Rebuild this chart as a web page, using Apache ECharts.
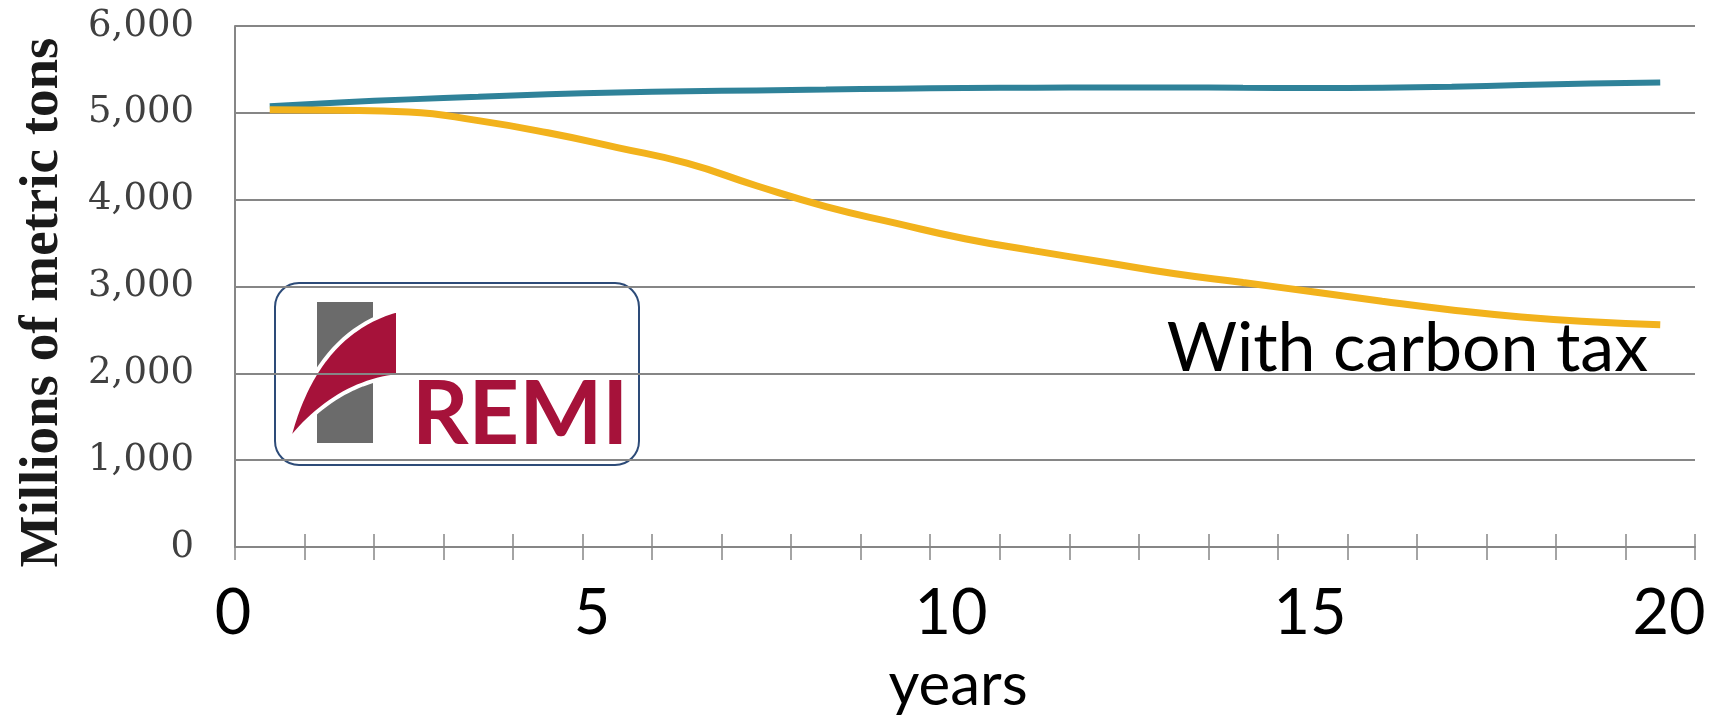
<!DOCTYPE html>
<html>
<head>
<meta charset="utf-8">
<title>Emissions with carbon tax</title>
<script src="https://cdn.jsdelivr.net/npm/echarts@6.0.0/dist/echarts.min.js"></script>
<style>
  html, body { margin: 0; padding: 0; background: #fff; }
  #chart { width: 1709px; height: 721px; }
</style>
</head>
<body>
<div id="chart"></div>
<script>
  // years 0..20
  let years = ['0', '1', '2', '3', '4', '5', '6', '7', '8', '9', '10',
               '11', '12', '13', '14', '15', '16', '17', '18', '19', '20'];
  // millions of metric tons
  let baseline = [5075, 5120, 5155, 5185, 5215, 5235, 5248, 5258, 5268, 5278, 5285,
                  5290, 5292, 5292, 5288, 5285, 5290, 5300, 5320, 5338, 5350];
  let withTax = [5035, 5030, 5010, 4910, 4770, 4600, 4420, 4160, 3920, 3730, 3550,
                 3410, 3280, 3150, 3045, 2940, 2830, 2730, 2650, 2595, 2560];
  let yTicks = [0, 1000, 2000, 3000, 4000, 5000, 6000];
  let yearTicks = [0, 5, 10, 15, 20];

  // points along a quadratic curve, for the logo sail
  function quad(p0, c, p1, n) {
    let pts = [];
    for (let i = 0; i <= n; i++) {
      let t = i / n, u = 1 - t;
      pts.push([u * u * p0[0] + 2 * u * t * c[0] + t * t * p1[0],
                u * u * p0[1] + 2 * u * t * c[1] + t * t * p1[1]]);
    }
    return pts;
  }
  let sail = quad([13, 159], [40, 50], [123, 27], 24)
    .concat(quad([123, 93], [60, 100], [13, 159], 24));

  let myChart = echarts.init(document.getElementById('chart'));
  let gray = '#868686';

  let option = {
    animation: false,
    grid: [
      { left: 235, right: 14, top: 26, bottom: 174 },
      // big year labels under the axis
      { left: 233, right: 40, top: 26, bottom: 174 }
    ],
    xAxis: [
      {
        type: 'category',
        gridIndex: 0,
        data: years,
        boundaryGap: true,
        axisLine: { lineStyle: { color: gray, width: 2 } },
        axisTick: { show: true, length: 13, lineStyle: { color: gray, width: 1.5 } },
        axisLabel: { show: false }
      },
      {
        // same axis again, ticks drawn upward so they cross the line
        type: 'category',
        gridIndex: 0,
        position: 'bottom',
        data: years,
        boundaryGap: true,
        axisLine: { show: false },
        axisTick: { show: true, inside: true, length: 13, lineStyle: { color: gray, width: 1.5 } },
        axisLabel: { show: false }
      },
      {
        type: 'value',
        gridIndex: 1,
        min: yearTicks[0],
        max: yearTicks[yearTicks.length - 1],
        interval: yearTicks[1] - yearTicks[0],
        axisLine: { show: false },
        axisTick: { show: false },
        splitLine: { show: false },
        axisLabel: {
          color: '#000',
          fontFamily: 'Lato',
          fontSize: 63,
          lineHeight: 64,
          margin: 36
        },
        name: 'years',
        nameLocation: 'middle',
        nameGap: 120,
        nameTextStyle: {
          color: '#000',
          fontFamily: 'Lato',
          fontSize: 60,
          lineHeight: 40,
          padding: [0, 0, 0, 14]
        }
      }
    ],
    yAxis: [
      {
        type: 'value',
        gridIndex: 0,
        min: yTicks[0],
        max: yTicks[yTicks.length - 1],
        interval: yTicks[1] - yTicks[0],
        axisLine: { show: true, lineStyle: { color: gray, width: 2 } },
        axisTick: { show: false },
        splitLine: { show: true, lineStyle: { color: gray, width: 2 } },
        axisLabel: {
          color: '#404040',
          fontFamily: 'DejaVu Serif',
          fontSize: 37,
          margin: 41,
          formatter: function (v) { return v.toLocaleString('en-US'); }
        },
        name: 'Millions of metric tons',
        nameLocation: 'middle',
        nameGap: 165,
        nameTextStyle: {
          color: '#1a1a1a',
          fontFamily: 'Liberation Serif',
          fontWeight: 'bold',
          fontSize: 55,
          padding: [0, 32, 0, 0]
        }
      },
      {
        type: 'value',
        gridIndex: 1,
        show: false,
        min: 0,
        max: 1
      }
    ],
    series: [
      {
        name: 'Baseline',
        type: 'line',
        xAxisIndex: 0,
        yAxisIndex: 0,
        smooth: true,
        showSymbol: false,
        lineStyle: { color: '#2f8299', width: 6 },
        data: baseline
      },
      {
        name: 'With carbon tax',
        type: 'line',
        xAxisIndex: 0,
        yAxisIndex: 0,
        smooth: true,
        showSymbol: false,
        lineStyle: { color: '#f2b21c', width: 7 },
        data: withTax
      }
    ],
    graphic: [
      {
        type: 'text',
        x: 1648,
        y: 349,
        style: {
          text: 'With carbon tax',
          fill: '#000',
          font: '68px Lato',
          align: 'right',
          verticalAlign: 'middle'
        }
      },
      {
        // REMI logo box
        type: 'group',
        x: 275,
        y: 283,
        children: [
          {
            type: 'rect',
            shape: { x: 0, y: 0, width: 364, height: 182, r: 24 },
            style: { fill: '#fff', stroke: '#2d4b78', lineWidth: 2 }
          },
          {
            type: 'rect',
            shape: { x: 42, y: 19, width: 56, height: 141 },
            style: { fill: '#6b6b6b' }
          },
          {
            type: 'polygon',
            shape: { points: sail },
            style: { fill: '#a6123a', stroke: '#fff', lineWidth: 4 }
          },
          {
            type: 'text',
            x: 137,
            y: 177,
            style: {
              text: 'REMI',
              fill: '#a6123a',
              font: 'bold 88px Lato',
              verticalAlign: 'bottom'
            }
          }
        ]
      }
    ]
  };
  myChart.setOption(option);
</script>
</body>
</html>
